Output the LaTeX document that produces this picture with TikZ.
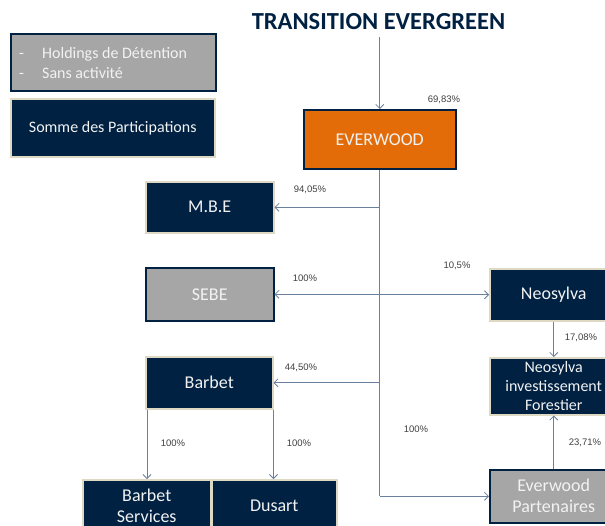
\documentclass[tikz,border=0pt]{standalone}
\usepackage{fontspec}
\setmainfont{Carlito}
\newfontfamily\arialf{Liberation Sans}
\usetikzlibrary{arrows.meta}
\definecolor{navy}{HTML}{002142}
\definecolor{boxgray}{HTML}{A6A6A6}
\definecolor{beige}{HTML}{DDD9C3}
\definecolor{linec}{HTML}{6B7F9E}
\definecolor{evorange}{HTML}{E36C09}
\definecolor{pctc}{HTML}{404040}
\definecolor{txtw}{HTML}{F2F2F2}
\begin{document}
\begin{tikzpicture}[x=1pt,y=-1pt,
  basebox/.style={line width=1.5pt, text=txtw, align=center, inner sep=0pt, anchor=north west, font=\fontsize{18}{21}\selectfont},
  navybox/.style={basebox, draw=beige, fill=navy},
  graybox/.style={basebox, draw=navy, fill=boxgray},
  conn/.style={draw=linec, line width=0.8pt, -{Straight Barb[length=4pt,width=8pt,line width=0.8pt]}},
  trunk/.style={draw=linec, line width=0.8pt},
  pct/.style={font=\arialf\fontsize{9.5}{11}\selectfont, text=pctc, inner sep=0pt}]
\useasboundingbox (0,0) rectangle (605,525);
\clip (0,0) rectangle (605,525);
\fill[white] (0,0) rectangle (605,525);

% title
\node[font=\bfseries\fontsize{24.5}{28}\selectfont, text=navy, inner sep=0pt] (title) at (378.5,22) {TRANSITION EVERGREEN};

% legend
\node[graybox, minimum width=205pt, minimum height=57pt, font=\fontsize{16}{20}\selectfont] (leg1) at (10,33) {};
\node[anchor=west, text=txtw, align=left, inner sep=0pt, font=\fontsize{16}{20}\selectfont] (leg1t) at (19,63)
  {\makebox[23pt][l]{-}Holdings de Détention\\\makebox[23pt][l]{-}Sans activité};
\node[navybox, minimum width=204pt, minimum height=58pt, font=\fontsize{16}{20}\selectfont] (leg2) at (10,98) {Somme des Participations};

% boxes
\node[basebox, draw=navy, fill=evorange, minimum width=152pt, minimum height=59pt] (ew) at (303,109) {EVERWOOD};
\node[navybox, minimum width=128pt, minimum height=51pt] (mbe) at (145,181) {M.B.E};
\node[graybox, minimum width=128pt, minimum height=53pt] (sebe) at (145,267) {SEBE};
\node[navybox, minimum width=127pt, minimum height=52pt] (barbet) at (145,356) {Barbet};
\node[navybox, minimum width=128pt, minimum height=52pt] (bs) at (82,479) {Barbet\\Services};
\node[navybox, minimum width=125pt, minimum height=52pt] (du) at (211,479) {Dusart};
\node[navybox, minimum width=128pt, minimum height=52pt] (neo) at (489,268) {Neosylva};
\node[navybox, minimum width=128pt, minimum height=57pt, font=\fontsize{16}{19}\selectfont] (nif) at (489,357) {Neosylva\\investissement\\Forestier};
\node[graybox, minimum width=128pt, minimum height=53pt] (part) at (489,469) {Everwood\\Partenaires};

% connectors
\draw[conn] ([yshift=-7pt]title.south -| ew.north) -- (ew.north);
\draw[trunk] (ew.south) -- (ew.south |- part.west);
\draw[conn] (ew.south |- mbe.east) -- (mbe.east);
\draw[conn] (ew.south |- sebe.east) -- (sebe.east);
\draw[conn] (ew.south |- neo.west) -- (neo.west);
\draw[conn] (ew.south |- barbet.east) -- (barbet.east);
\draw[conn] (ew.south |- part.west) -- (part.west);
\draw[conn] (neo.south) -- (nif.north);
\draw[conn] (part.north) -- (nif.south);
\draw[conn] ([xshift=2pt]barbet.south west) -- ([xshift=2pt]barbet.south west |- bs.north);
\draw[conn] (barbet.south east) -- (barbet.south east |- du.north);

% percentages
\node[pct] (p1) at (444,100) {69,83\%};
\node[pct] (p2) at (310,190) {94,05\%};
\node[pct] (p3) at (305,278) {100\%};
\node[pct] (p4) at (457,266) {10,5\%};
\node[pct] (p5) at (581,338) {17,08\%};
\node[pct] (p6) at (416,429) {100\%};
\node[pct] (p7) at (585,443) {23,71\%};
\node[pct] (p8) at (301,368) {44,50\%};
\node[pct] (p9) at (173,443) {100\%};
\node[pct] (p10) at (299,443) {100\%};
\end{tikzpicture}
\end{document}
